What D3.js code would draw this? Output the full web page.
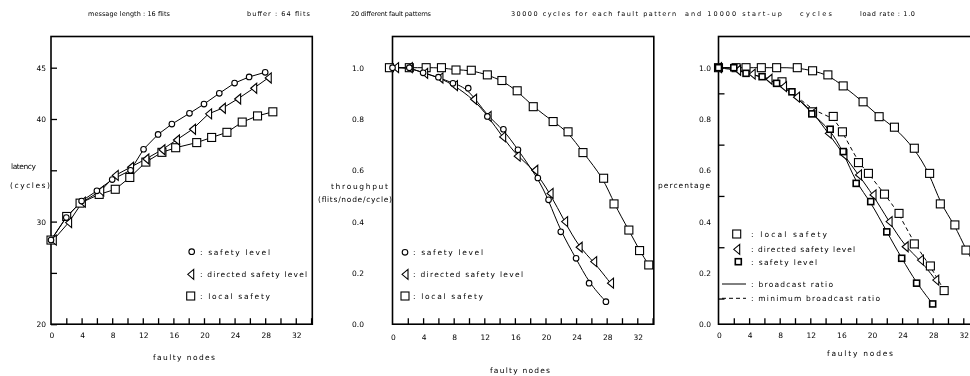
<!DOCTYPE html>
<html><head><meta charset="utf-8">
<script src="https://cdn.jsdelivr.net/npm/d3@7"></script>
<style>body{margin:0;background:#fff}svg{display:block;will-change:transform}text{font-family:"DejaVu Sans",sans-serif;font-size:7.5px;fill:#000}</style>
</head><body>
<svg id="c" width="970" height="376"></svg>
<script>
// ---------- data ----------
const titleParts = ["message length : 16 flits","buffer : 64 flits","20 different fault patterns","30000 cycles for each fault pattern","and 10000 start-up","cycles","load rate : 1.0"];
const xTickLabels = [0,4,8,12,16,20,24,28,32];

// panel 1: latency (cycles)
const latSafetyX = [0,2,4,6,8,10.4,12.1,14,15.8,18.1,20,22,24,25.9,28];
const latSafetyY = [28.2,30.4,32.0,33.0,34.1,35.0,37.05,38.5,39.5,40.55,41.45,42.5,43.5,44.1,44.55];
const latDirectedX = [0.3,2.3,4.1,6.5,8.4,10.4,12.4,14.5,16.4,18.5,20.6,22.4,24.4,26.5,28.4];
const latDirectedY = [28.2,29.9,31.9,33.0,34.5,35.3,36.1,37.0,37.95,39.0,40.5,41.05,41.95,43.0,44.0];
const latLocalX = [0,2.05,3.8,6.3,8.4,10.3,12.4,14.5,16.3,19.05,21,23,25,27,29];
const latLocalY = [28.2,30.5,31.8,32.65,33.15,34.3,35.8,36.75,37.2,37.7,38.2,38.7,39.7,40.3,40.7];
const latYTicks = [20,25,30,35,40,45];
const latYLabels = [20,30,40,45];

// panel 2: throughput (flits/node/cycle)
const thrSafetyX = [0,2.2,4,6,7.9,9.9,12.4,14.5,16.4,19,20.4,22,24,25.7,27.9];
const thrSafetyY = [1.0,1.0,0.98,0.963,0.939,0.92,0.81,0.76,0.68,0.57,0.485,0.36,0.257,0.16,0.088];
const thrDirectedX = [0.4,2.2,4.2,6.2,8.1,10.6,12.5,14.4,16.3,18.6,20.6,22.5,24.4,26.3,28.5];
const thrDirectedY = [1.0,1.0,0.978,0.96,0.93,0.877,0.81,0.73,0.655,0.6,0.51,0.40,0.30,0.244,0.16];
const thrLocalX = [-0.4,2.2,4.4,6.4,8.3,10.3,12.4,14.3,16.3,18.4,21,22.95,24.9,27.6,28.96,30.9,32.3,33.5];
const thrLocalY = [1.0,1.0,1.0,1.0,0.991,0.99,0.972,0.95,0.91,0.848,0.79,0.75,0.669,0.569,0.469,0.367,0.287,0.231];
const ratioYLabels = ["0.0","0.2","0.4","0.6","0.8","1.0"];

// panel 3: percentage
const pctLocalX = [0,2.3,3.6,5.6,7.6,10.3,12.3,14.3,16.3,18.9,21,23,25.6,27.6,29,30.9,32.35,33.6];
const pctLocalY = [1.0,1.0,1.0,1.0,1.0,1.0,0.988,0.972,0.929,0.867,0.809,0.768,0.686,0.588,0.469,0.387,0.289,0.23];
const pctDirectedX = [0,2.5,4.4,6.6,8.5,10.2,12.4,14.35,16.4,18.3,20.2,22.3,24.4,26.4,28.4];
const pctDirectedY = [1.0,0.99,0.975,0.955,0.926,0.885,0.825,0.744,0.66,0.582,0.504,0.40,0.302,0.25,0.172];
const pctSafetyX = [0,2,3.6,5.7,7.6,9.6,12.2,14.6,16.3,18,19.9,22,23.95,25.9,28];
const pctSafetyY = [1.0,1.0,0.978,0.965,0.939,0.906,0.82,0.76,0.673,0.549,0.478,0.36,0.257,0.16,0.079];
const pctMinX = [8.3,12.3,15,16.2,18.3,19.6,21.7,23.6,25.6,27.7,29.5];
const pctMinY = [0.945,0.828,0.81,0.75,0.63,0.588,0.507,0.432,0.313,0.227,0.131];
const pctMinLineX = [0,2,3.6,5.6,8.3,12.3,15,16.2,18.3,19.6,21.7,23.6,25.6,27.7,29.5];
const pctMinLineY = [1.0,1.0,0.978,0.965,0.945,0.828,0.81,0.75,0.63,0.588,0.507,0.432,0.313,0.227,0.131];

// ---------- drawing ----------
const svg = d3.select("#c");
const zip = (xs, ys) => xs.map((x, i) => [x, ys[i]]);

function txt(x, y, s, o = {}) {
  const t = svg.append("text").attr("x", x).attr("y", y).text(s)
    .attr("text-anchor", o.anchor || "start");
  if (o.size) t.style("font-size", o.size + "px");
  if (o.len) t.attr("textLength", o.len).attr("lengthAdjust", "spacing");
  return t;
}

// title
[[88,82],[247,63],[351,80],[511,165],[685,97],[800,32],[860,55]].forEach((p, i) =>
  txt(p[0], 16, titleParts[i], {len: p[1], size: 6.5}));

function marker(g, type, x, y) {
  if (type === "sq") g.append("rect").attr("x", x - 4).attr("y", y - 4).attr("width", 8).attr("height", 8)
    .attr("fill", "#fff").attr("stroke", "#000").attr("stroke-width", 1.1);
  else if (type === "sqb") g.append("rect").attr("x", x - 3).attr("y", y - 3).attr("width", 6).attr("height", 6)
    .attr("fill", "#fff").attr("stroke", "#000").attr("stroke-width", 1.6);
  else if (type === "ci") g.append("circle").attr("cx", x).attr("cy", y).attr("r", 2.8)
    .attr("fill", "#fff").attr("stroke", "#000").attr("stroke-width", 1.1);
  else if (type === "tri") g.append("path").attr("d", `M${x-3},${y}L${x+3},${y-5}L${x+3},${y+5}Z`)
    .attr("fill", "#fff").attr("stroke", "#000").attr("stroke-width", 1.1);
}

function panel(cfg) {
  const x = d3.scaleLinear().domain([0, 34.16]).range([cfg.left, cfg.left + 261.3]);
  const y = d3.scaleLinear().domain(cfg.yDomain).range([324.2, 36.5]);
  const g = svg.append("g");
  g.append("rect").attr("x", x.range()[0]).attr("y", 36.5).attr("width", 261.3).attr("height", 287.7)
    .attr("fill", "none").attr("stroke", "#000").attr("stroke-width", 1.6);
  const xa = d3.axisBottom(x).tickValues(d3.range(2, 35, 2)).tickSize(-6).tickFormat("");
  g.append("g").attr("transform", "translate(0,324.2)").call(xa)
    .call(s => { s.select(".domain").remove(); s.selectAll("line").attr("stroke", "#000").attr("stroke-width", 1.3); });
  xTickLabels.forEach(v => txt(x(v) + 1, cfg.xLabY, String(v), {anchor: "middle"}));
  if (cfg.yTicks.length) {
    const ya = d3.axisLeft(y).tickValues(cfg.yTicks).tickSize(-6).tickFormat("");
    g.append("g").attr("transform", `translate(${cfg.left},0)`).call(ya)
      .call(s => { s.select(".domain").remove(); s.selectAll("line").attr("stroke", "#000").attr("stroke-width", 1.3); });
  }
  cfg.yLabels.forEach(l => txt(cfg.yLabX, y(+l) + 3, l, {anchor: "end"}));
  const lg = g.append("g");
  cfg.series.forEach(s => {
    const line = d3.line().x(d => x(d[0])).y(d => y(d[1])).curve(s.curve || d3.curveLinear);
    lg.append("path").datum(s.line || s.pts).attr("d", line).attr("fill", "none")
      .attr("stroke", "#000").attr("stroke-width", 1).attr("stroke-dasharray", s.dash || null);
  });
  cfg.series.forEach(s => s.pts.forEach(p => marker(g, s.m, x(p[0]), y(p[1]))));
  return {x, y};
}

panel({left: 51, yDomain: [20, 48.04], xLabY: 338, yTicks: latYTicks, yLabels: latYLabels.map(String), yLabX: 46,
  series: [
    {pts: zip(latLocalX, latLocalY), m: "sq"},
    {pts: zip(latDirectedX, latDirectedY), m: "tri"},
    {pts: zip(latSafetyX, latSafetyY), m: "ci"}
  ]});
panel({left: 392.5, yDomain: [0, 1.1216], xLabY: 340, yTicks: [], yLabels: ratioYLabels, yLabX: 364,
  series: [
    {pts: zip(thrLocalX, thrLocalY), m: "sq", curve: d3.curveBasis},
    {pts: zip(thrDirectedX, thrDirectedY), m: "tri", curve: d3.curveBasis},
    {pts: zip(thrSafetyX, thrSafetyY), m: "ci", curve: d3.curveBasis}
  ]});
panel({left: 718.5, yDomain: [0, 1.1216], xLabY: 338, yTicks: [0.1,0.3,0.5,0.7,0.9], yLabels: ratioYLabels, yLabX: 711,
  series: [
    {pts: zip(pctLocalX, pctLocalY), m: "sq", curve: d3.curveBasis},
    {pts: zip(pctMinX, pctMinY), line: zip(pctMinLineX, pctMinLineY), m: "sq", curve: d3.curveBasis, dash: "4,3"},
    {pts: zip(pctDirectedX, pctDirectedY), m: "tri", curve: d3.curveBasis},
    {pts: zip(pctSafetyX, pctSafetyY), m: "sqb", curve: d3.curveBasis}
  ]});

txt(11, 169, "latency", {len: 25});
txt(10, 188, "(cycles)", {len: 40});
txt(331, 189, "throughput", {len: 57});
txt(318, 202, "(flits/node/cycle)", {len: 74});
txt(658, 188, "percentage", {len: 52});
txt(153, 360, "faulty nodes", {len: 62});
txt(490, 373, "faulty nodes", {len: 60});
txt(827, 356, "faulty nodes", {len: 66});

const lgP = svg.append("g");
function legRow(mx, my, type, label, tx, len) {
  if (type === "solid" || type === "dash") {
    lgP.append("line").attr("x1", mx - 12).attr("x2", mx + 12).attr("y1", my).attr("y2", my)
      .attr("stroke", "#000").attr("stroke-width", 1).attr("stroke-dasharray", type === "dash" ? "4,3" : null);
  } else marker(lgP, type, mx, my);
  txt(tx, my + 3, label, {len});
}
legRow(191.7, 251.7, "ci", ":  safety level", 200, 70);
legRow(190.7, 274.3, "tri", ":  directed safety level", 200, 107);
legRow(190.7, 296, "sq", ":  local safety", 200, 70);
legRow(405, 252.3, "ci", ":  safety level", 413, 70);
legRow(405, 274.3, "tri", ":  directed safety level", 413, 110);
legRow(405, 296, "sq", ":  local safety", 413, 70);
legRow(736.7, 234, "sq", ":  local safety", 751, 76);
legRow(736.7, 249.3, "tri", ":  directed safety level", 751, 104);
legRow(738.3, 261.7, "sqb", ":  safety level", 751, 66);
legRow(734, 284, "solid", ":  broadcast ratio", 751, 82);
legRow(734, 298.3, "dash", ":  minimum broadcast ratio", 751, 129);
</script>
</body></html>
